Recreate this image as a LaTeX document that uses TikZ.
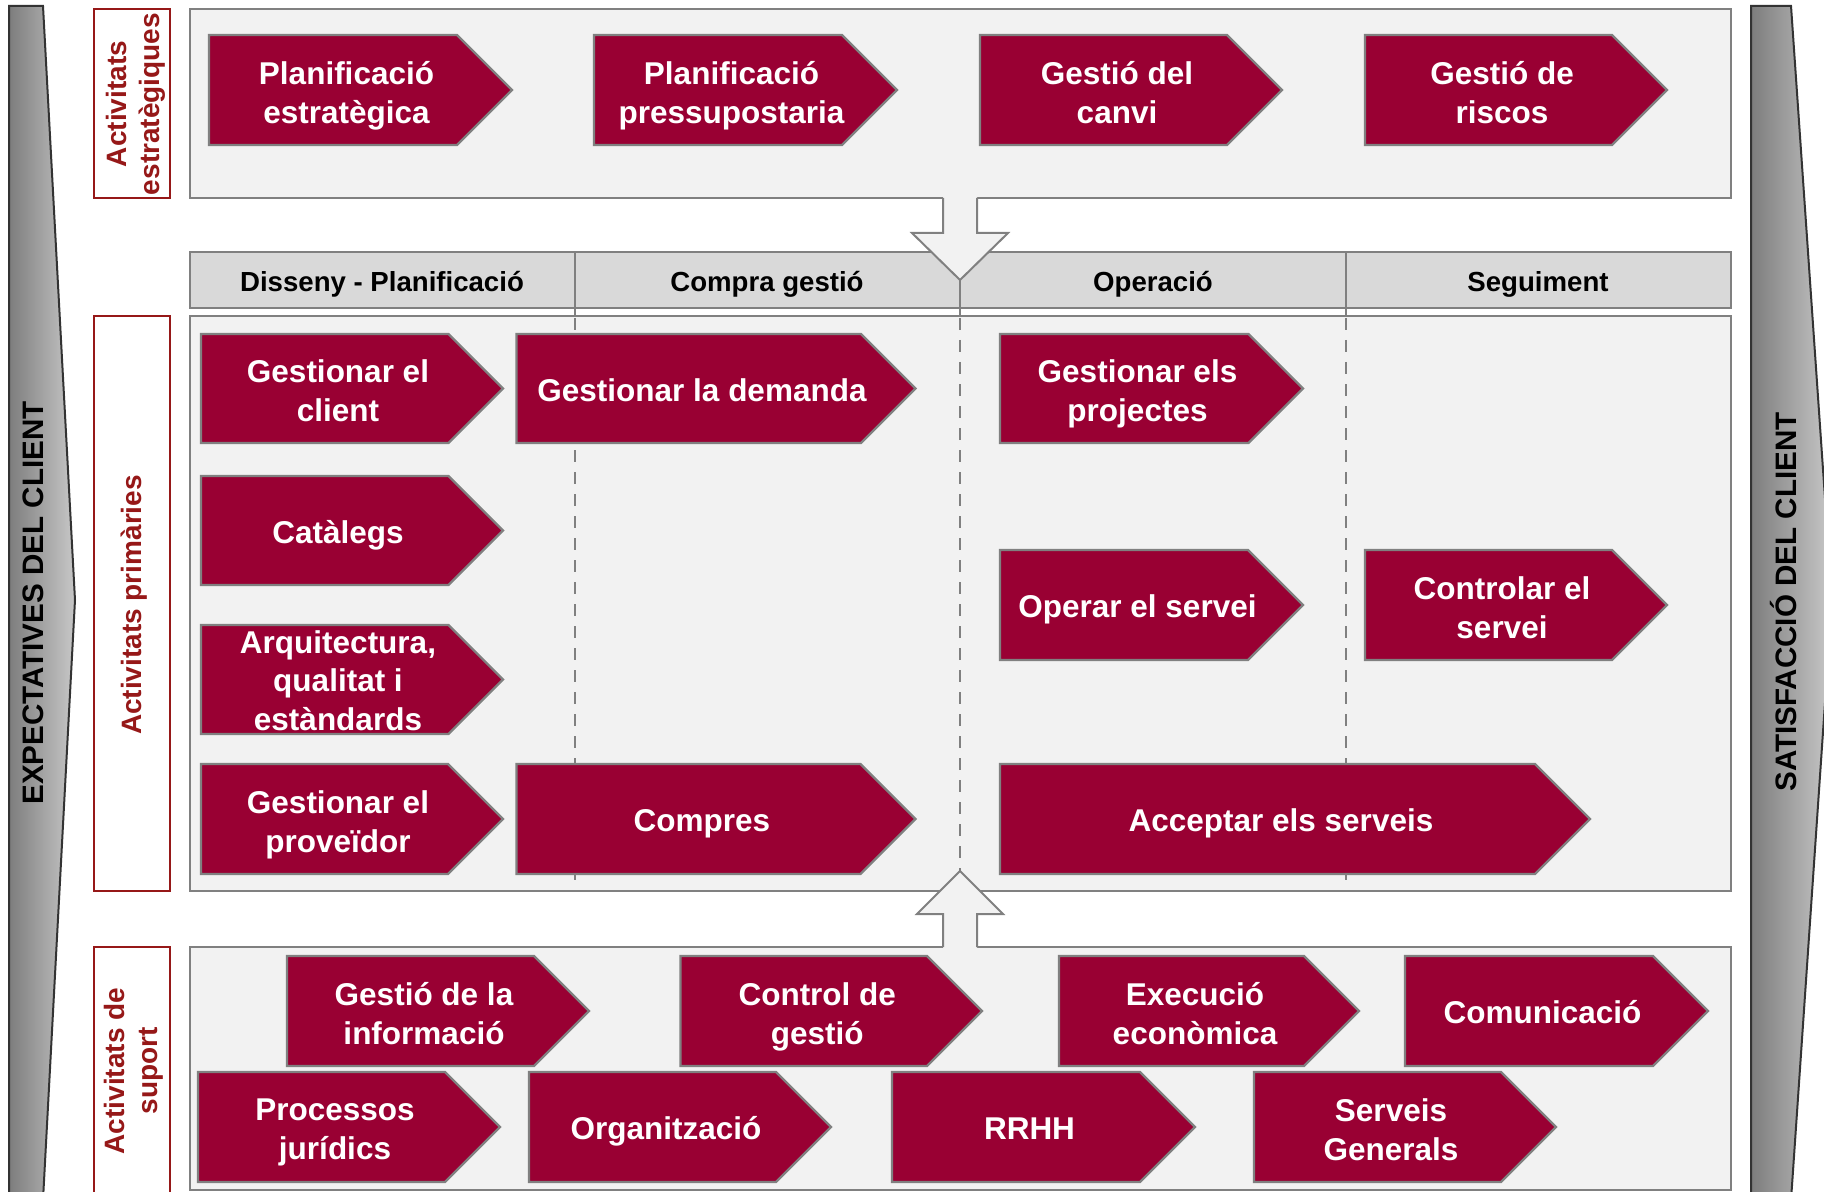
\documentclass[tikz,border=0pt]{standalone}
\usepackage{fontspec}
\setmainfont{Liberation Sans}
\definecolor{chevred}{RGB}{153,0,51}
\definecolor{lblred}{RGB}{150,24,24}
\definecolor{boxgray}{RGB}{242,242,242}
\definecolor{hdrgray}{RGB}{217,217,217}
\definecolor{linegray}{RGB}{128,128,128}
\definecolor{banddark}{RGB}{125,125,125}
\definecolor{bandlight}{RGB}{200,200,200}
\newcommand{\chev}[7][0]{%
  \pgfmathsetmacro\chevmid{(#5+#6)/2}%
  \pgfmathsetmacro\chevhalf{(#6-#5)/2}%
  \draw[chevbox] (#3,#5) -- ({#4-\chevhalf},#5) -- (#4,\chevmid) -- ({#4-\chevhalf},#6) -- (#3,#6) -- cycle;
  \node[chevtext] (#2) at ({(#3+#4-28)/2},{\chevmid+5.1+#1}) {#7};
}
\begin{document}
\begin{tikzpicture}[x=0.5pt,y=-0.5pt,
  chevbox/.style={fill=chevred,draw=linegray,line width=1.2pt,line join=miter},
  chevtext/.style={text=white,font=\bfseries\fontsize{15.75}{19.3}\selectfont,align=center,inner sep=0pt,
    execute at begin node=\strut,execute at end node=\strut},
  areabox/.style={fill=boxgray,draw=linegray,line width=1pt},
  hdrbox/.style={fill=hdrgray,draw=linegray,line width=1pt},
  hdrtext/.style={font=\bfseries\fontsize{13.8}{16}\selectfont,text=black,inner sep=0pt},
  lblbox/.style={fill=white,draw=lblred,line width=1pt},
  lbltext/.style={font=\bfseries\fontsize{14}{16.5}\selectfont,text=lblred,align=center,rotate=90,inner sep=0pt},
  bandtext/.style={font=\bfseries\fontsize{14.8}{16}\selectfont,text=black,rotate=90,inner sep=0pt},
  band/.style={draw=black!80,line width=1pt,left color=banddark,right color=bandlight},
  divline/.style={draw=linegray,line width=1pt},
  dashline/.style={draw=linegray,line width=0.8pt,dash pattern=on 6pt off 5pt},
  blockarrow/.style={fill=boxgray},
  arrowedge/.style={draw=linegray,line width=1pt,line join=miter}
]
\useasboundingbox (0,0) rectangle (1824,1192);
\clip (0,0) rectangle (1824,1192);
\fill[white] (0,0) rectangle (1824,1192);

% side bands
\path[band] (9,6) -- (43,6) -- (75,600) -- (43,1200) -- (9,1200) -- cycle;
\node[bandtext] (expect) at (33,603) {EXPECTATIVES DEL CLIENT};
\path[band] (1751,6) -- (1791,6) -- (1832,600) -- (1791,1200) -- (1751,1200) -- cycle;
\node[bandtext] (satisf) at (1783,602) {SATISFACCIÓ DEL CLIENT};

% label boxes
\draw[lblbox] (94,9) rectangle (170,198);
\node[lbltext] (lblstrat) at (135.5,104) {Activitats\\estratègiques};
\draw[lblbox] (94,316) rectangle (170,891);
\node[lbltext] (lblprim) at (134,605) {Activitats primàries};
\draw[lblbox] (94,947) rectangle (170,1196);
\node[lbltext] (lblsup) at (134,1071) {Activitats de\\suport};

% area boxes
\draw[areabox] (190,9) rectangle (1731,198);
\draw[areabox] (190,316) rectangle (1731,891);
\draw[areabox] (190,947) rectangle (1731,1190);

% header
\draw[hdrbox] (190,252) rectangle (574.7,308);
\draw[hdrbox] (574.7,252) rectangle (959.7,308);
\draw[hdrbox] (959.7,252) rectangle (1345.9,308);
\draw[hdrbox] (1345.9,252) rectangle (1731,308);
\node[hdrtext] (h1) at (382,284.5) {Disseny - Planificació};
\node[hdrtext] (h2) at (767,284.5) {Compra gestió};
\node[hdrtext] (h3) at (1153,284.5) {Operació};
\node[hdrtext] (h4) at (1538,284.5) {Seguiment};

% column separators
\draw[divline] (574.7,308) -- (574.7,316);
\draw[divline] (1345.9,308) -- (1345.9,316);
\draw[dashline] (574.7,318) -- (574.7,891);
\draw[dashline] (959.7,318) -- (959.7,871);
\draw[dashline] (1345.9,318) -- (1345.9,891);

% strategic chevrons
\chev[3]{pe}{209}{512}{35}{145}{Planificació\\estratègica}
\chev[3]{pp}{594}{897}{35}{145}{Planificació\\pressupostaria}
\chev[3]{gc}{980}{1282}{35}{145}{Gestió del\\canvi}
\chev[3]{gr}{1365}{1667}{35}{145}{Gestió de\\riscos}

% primary chevrons
\chev[3]{gcl}{201}{503}{334}{443}{Gestionar el\\client}
\chev{gd}{516.5}{915.5}{334}{443}{Gestionar la demanda}
\chev[3]{gp}{1000}{1303}{334}{443}{Gestionar els\\projectes}
\chev{cat}{201}{503}{476}{585}{Catàlegs}
\chev{os}{1000}{1303}{550}{660}{Operar el servei}
\chev[3]{cs}{1365}{1667}{550}{660}{Controlar el\\servei}
\chev[1.5]{aq}{201}{503}{625}{734}{Arquitectura,\\qualitat i\\estàndards}
\chev[3]{gpv}{201}{503}{764}{874}{Gestionar el\\proveïdor}
\chev{cmp}{516.5}{915.5}{764}{874}{Compres}
\chev{acc}{1000}{1590}{764}{874}{Acceptar els serveis}

% support chevrons
\chev[3]{gi}{287}{589}{956}{1066}{Gestió de la\\informació}
\chev[3]{cg}{680.5}{982}{956}{1066}{Control de\\gestió}
\chev[3]{ee}{1059}{1359}{956}{1066}{Execució\\econòmica}
\chev{com}{1405}{1708}{956}{1066}{Comunicació}
\chev[3]{pj}{198}{500}{1072}{1182}{Processos\\jurídics}
\chev{org}{529}{831}{1072}{1182}{Organització}
\chev{rh}{892}{1195}{1072}{1182}{RRHH}
\chev[3]{sg}{1254}{1556}{1072}{1182}{Serveis\\Generals}

% down block arrow
\fill[blockarrow] (943,196) -- (943,233) -- (912,233) -- (960,280) -- (1008,233) -- (977,233) -- (977,196) -- cycle;
\draw[arrowedge] (943,198) -- (943,233) -- (912,233) -- (960,280) -- (1008,233) -- (977,233) -- (977,198);
\draw[divline] (959.7,280) -- (959.7,316);

% up block arrow
\fill[blockarrow] (943,949) -- (943,914) -- (917,914) -- (960,871) -- (1003,914) -- (977,914) -- (977,949) -- cycle;
\draw[arrowedge] (943,947) -- (943,914) -- (917,914) -- (960,871) -- (1003,914) -- (977,914) -- (977,947);
\end{tikzpicture}
\end{document}
